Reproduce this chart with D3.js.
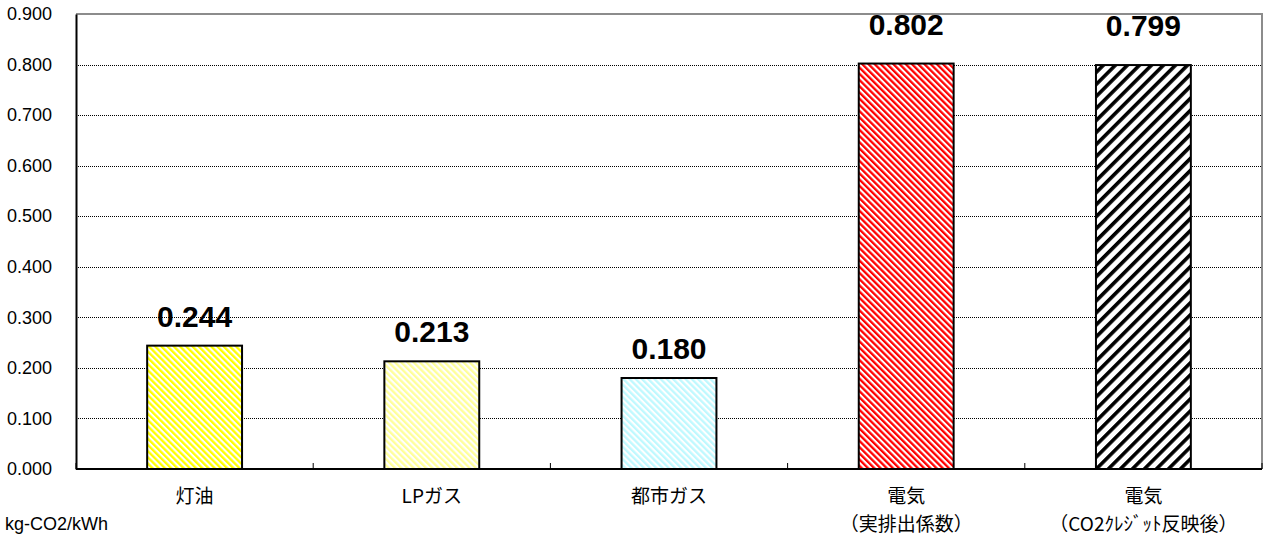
<!DOCTYPE html>
<html>
<head>
<meta charset="utf-8">
<script src="https://cdn.jsdelivr.net/npm/d3@7"></script>
<style>
  body { margin: 0; background: #fff; }
  svg { display: block; }
  text { font-family: "Liberation Sans", Arial, "Noto Sans CJK JP", sans-serif; }
  .cjk { font-family: "Noto Sans CJK JP", sans-serif; }
</style>
</head>
<body>
<div id="svg_div"></div>
<script>
// Chart data
var categories = ["灯油", "LPガス", "都市ガス", "電気", "電気"];
var subLabels = ["", "", "", "（実排出係数）", "（CO2ｸﾚｼﾞｯﾄ反映後）"];
var values = [0.244, 0.213, 0.180, 0.802, 0.799];
var yTicks = [0, 0.1, 0.2, 0.3, 0.4, 0.5, 0.6, 0.7, 0.8, 0.9];
var unitLabel = "kg-CO2/kWh";

var svg = d3.select("#svg_div").append("svg").attr("width", 1266).attr("height", 537);

// Plot area
var margin = {top: 14, left: 76, bottom: 68, right: 4};
var x0 = margin.left, x1 = 1266 - margin.right;
var y0 = 537 - margin.bottom, y1 = margin.top;

var xScale = d3.scaleBand()
    .domain(d3.range(categories.length))
    .range([x0, x1])
    .paddingInner(0.6)
    .paddingOuter(0.3);

var yScale = d3.scaleLinear()
    .domain([0, 0.9])
    .range([y0, y1]);

// Hatch patterns
var defs = svg.append("defs");
function hatch(id, color, period, stripe, angle) {
    var p = defs.append("pattern")
        .attr("id", id)
        .attr("patternUnits", "userSpaceOnUse")
        .attr("width", period)
        .attr("height", period)
        .attr("patternTransform", "rotate(" + angle + ")");
    p.append("rect").attr("width", period).attr("height", period).attr("fill", "#fff");
    p.append("rect").attr("width", stripe).attr("height", period).attr("fill", color);
}
hatch("p0", "#ffff00", 4.4, 2.3, -45);
hatch("p1", "#ffff99", 4.4, 2.3, -45);
hatch("p2", "#bff9ff", 4.4, 2.3, -45);
hatch("p3", "#ff0000", 4.4, 2.3, -45);
hatch("p4", "#000000", 8.5, 3.6, 45);

// Gridlines
svg.append("g")
    .selectAll("line")
    .data(yTicks.filter(function(d) { return d > 0 && d < 0.9; }))
    .enter()
    .append("line")
    .attr("x1", x0).attr("x2", x1)
    .attr("y1", function(d) { return Math.round(yScale(d)) + 0.5; })
    .attr("y2", function(d) { return Math.round(yScale(d)) + 0.5; })
    .attr("stroke", "#000")
    .attr("stroke-width", 1)
    .attr("stroke-dasharray", "1,1");

// Frame: top and right gray
svg.append("path")
    .attr("d", "M" + x0 + "," + y1 + "H" + x1 + "V" + y0)
    .attr("fill", "none")
    .attr("stroke", "#8c8c8c")
    .attr("stroke-width", 2);

// Y axis
var yAxis = d3.axisLeft(yScale)
    .tickValues(yTicks)
    .tickSize(0)
    .tickPadding(24)
    .tickFormat(d3.format(".3f"));
var yAxisG = svg.append("g")
    .attr("transform", "translate(" + x0 + ",0)")
    .call(yAxis);
yAxisG.select(".domain").attr("stroke", "#000").attr("stroke-width", 2);
yAxisG.selectAll("text")
    .attr("fill", "#000")
    .style("font-size", "18px");

// Bars
svg.append("g")
    .selectAll("rect")
    .data(values)
    .enter()
    .append("rect")
    .attr("x", function(d, i) { return xScale(i); })
    .attr("y", function(d) { return yScale(d); })
    .attr("width", xScale.bandwidth())
    .attr("height", function(d) { return yScale(0) - yScale(d); })
    .attr("fill", function(d, i) { return "url(#p" + i + ")"; })
    .attr("stroke", "#000")
    .attr("stroke-width", 2);

// X axis with category boundary ticks
var step = xScale.step();
var boundaries = d3.range(categories.length + 1).map(function(i) { return x0 + i * step; });
svg.append("line")
    .attr("x1", x0).attr("x2", x1)
    .attr("y1", y0).attr("y2", y0)
    .attr("stroke", "#000")
    .attr("stroke-width", 2);
svg.append("g")
    .selectAll("line")
    .data(boundaries)
    .enter()
    .append("line")
    .attr("x1", function(d) { return d; })
    .attr("x2", function(d) { return d; })
    .attr("y1", y0).attr("y2", y0 - 6)
    .attr("stroke", "#000")
    .attr("stroke-width", 1);

// Value labels
svg.append("g")
    .selectAll("text")
    .data(values)
    .enter()
    .append("text")
    .attr("x", function(d, i) { return xScale(i) + xScale.bandwidth() / 2; })
    .attr("y", function(d) { return yScale(d) - (d > 0.5 ? 29 : 19); })
    .attr("text-anchor", "middle")
    .style("font-size", "30px")
    .style("font-weight", "bold")
    .text(function(d) { return d3.format(".3f")(d); });

// Category labels
var catG = svg.append("g");
categories.forEach(function(c, i) {
    var cx = xScale(i) + xScale.bandwidth() / 2;
    catG.append("text")
        .attr("class", "cjk")
        .attr("x", cx)
        .attr("y", 496)
        .attr("dy", "0.35em")
        .attr("text-anchor", "middle")
        .style("font-size", "19px")
        .text(c);
    if (subLabels[i]) {
        catG.append("text")
            .attr("class", "cjk")
            .attr("x", cx)
            .attr("y", 524)
            .attr("dy", "0.35em")
            .attr("text-anchor", "middle")
            .style("font-size", "19px")
            .text(subLabels[i]);
    }
});

// Unit label
svg.append("text")
    .attr("x", 5)
    .attr("y", 524)
    .attr("dy", "0.35em")
    .style("font-size", "18px")
    .text(unitLabel);
</script>
</body>
</html>
